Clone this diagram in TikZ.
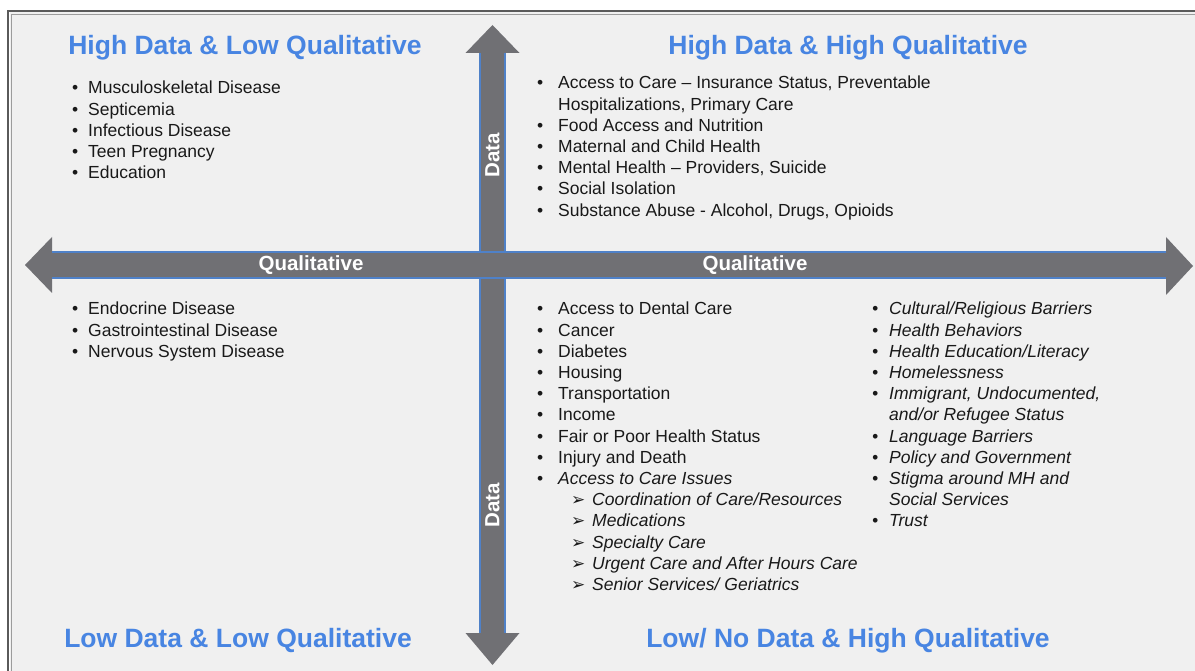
\documentclass[tikz,border=0pt]{standalone}
\usepackage{fontspec}
\setmainfont{Liberation Sans}
\newfontfamily\djv{DejaVu Sans}
\definecolor{bgc}{RGB}{240,240,240}
\definecolor{framec}{RGB}{90,90,90}
\definecolor{arrc}{RGB}{112,112,116}
\definecolor{edgec}{RGB}{79,129,200}
\definecolor{ttlc}{RGB}{72,133,226}
\definecolor{txtc}{RGB}{25,25,25}
\newlength\bw
\newcommand\itm[1]{\makebox[\bw][l]{•}#1}
\newcommand\cont[1]{\hspace*{\bw}#1}
\newcommand\subitm[1]{\hspace*{34pt}\makebox[21pt][l]{\djv\fontsize{17}{19}\selectfont ➢}\textit{#1}}
\begin{document}
\begin{tikzpicture}[x=1pt,y=-1pt,
  lst/.style={anchor=base west, inner sep=0pt, font=\fontsize{17.5}{21.2}\selectfont, text=txtc},
  ttl/.style={anchor=base, inner sep=0pt, font=\fontsize{26.5}{30}\selectfont\bfseries, text=ttlc},
  axlab/.style={inner sep=0pt, font=\fontsize{20.5}{24}\selectfont\bfseries, text=white},
  shaftedge/.style={draw=edgec, line width=1.6pt}]
\useasboundingbox (0,0) rectangle (1195,671);
\fill[white] (0,0) rectangle (1195,671);
\fill[bgc] (10,12) rectangle (1195,671);
\draw[framec, line width=1.4pt] (8,671) -- (8,11) -- (1195,11);
\draw[framec!60, line width=0.6pt] (11,671) -- (11,14) -- (1195,14);
% vertical arrow
\fill[arrc] (492.5,25) -- (519.5,53) -- (505,53) -- (505,633) -- (519.5,633) -- (492.5,665)
  -- (465.5,633) -- (480,633) -- (480,53) -- (465.5,53) -- cycle;
\draw[shaftedge] (480,53) -- (480,633);
\draw[shaftedge] (505,53) -- (505,633);
% horizontal arrow
\fill[arrc] (25,265) -- (52,237) -- (52,252) -- (1166,252) -- (1166,237) -- (1193,266)
  -- (1166,295) -- (1166,278) -- (52,278) -- (52,293) -- cycle;
\draw[shaftedge] (52,252) -- (1166,252);
\draw[shaftedge] (52,278) -- (1166,278);
% axis labels
\node[axlab] (q1) at (311,265) {Qualitative};
\node[axlab] (q2) at (755,265) {Qualitative};
\node[axlab, rotate=90] (d1) at (492.5,155) {Data};
\node[axlab, rotate=90] (d2) at (492.5,505) {Data};
% titles
\node[ttl] (t1) at (245,55) {High Data \& Low Qualitative};
\node[ttl] (t2) at (848,55) {High Data \& High Qualitative};
\node[ttl] (t3) at (238,647) {Low Data \& Low Qualitative};
\node[ttl] (t4) at (848,647) {Low/ No Data \& High Qualitative};
% lists
\node[lst] (l1) at (72,94) {\setlength\bw{16pt}\begin{tabular}[t]{@{}l@{}}
\itm{Musculoskeletal Disease}\\
\itm{Septicemia}\\
\itm{Infectious Disease}\\
\itm{Teen Pregnancy}\\
\itm{Education}
\end{tabular}};
\node[lst] (l2) at (537,89) {\setlength\bw{21pt}\begin{tabular}[t]{@{}l@{}}
\itm{Access to Care – Insurance Status, Preventable}\\
\cont{Hospitalizations, Primary Care}\\
\itm{Food Access and Nutrition}\\
\itm{Maternal and Child Health}\\
\itm{Mental Health – Providers, Suicide}\\
\itm{Social Isolation}\\
\itm{Substance Abuse - Alcohol, Drugs, Opioids}
\end{tabular}};
\node[lst] (l3) at (72,315) {\setlength\bw{16pt}\begin{tabular}[t]{@{}l@{}}
\itm{Endocrine Disease}\\
\itm{Gastrointestinal Disease}\\
\itm{Nervous System Disease}
\end{tabular}};
\node[lst] (l4) at (537,315) {\setlength\bw{21pt}\begin{tabular}[t]{@{}l@{}}
\itm{Access to Dental Care}\\
\itm{Cancer}\\
\itm{Diabetes}\\
\itm{Housing}\\
\itm{Transportation}\\
\itm{Income}\\
\itm{Fair or Poor Health Status}\\
\itm{Injury and Death}\\
\itm{\textit{Access to Care Issues}}\\
\subitm{Coordination of Care/Resources}\\
\subitm{Medications}\\
\subitm{Specialty Care}\\
\subitm{Urgent Care and After Hours Care}\\
\subitm{Senior Services/ Geriatrics}
\end{tabular}};
\node[lst] (l5) at (872,315) {\setlength\bw{17pt}\itshape\begin{tabular}[t]{@{}l@{}}
\itm{Cultural/Religious Barriers}\\
\itm{Health Behaviors}\\
\itm{Health Education/Literacy}\\
\itm{Homelessness}\\
\itm{Immigrant, Undocumented,}\\
\cont{and/or Refugee Status}\\
\itm{Language Barriers}\\
\itm{Policy and Government}\\
\itm{Stigma around MH and}\\
\cont{Social Services}\\
\itm{Trust}
\end{tabular}};
\end{tikzpicture}
\end{document}
